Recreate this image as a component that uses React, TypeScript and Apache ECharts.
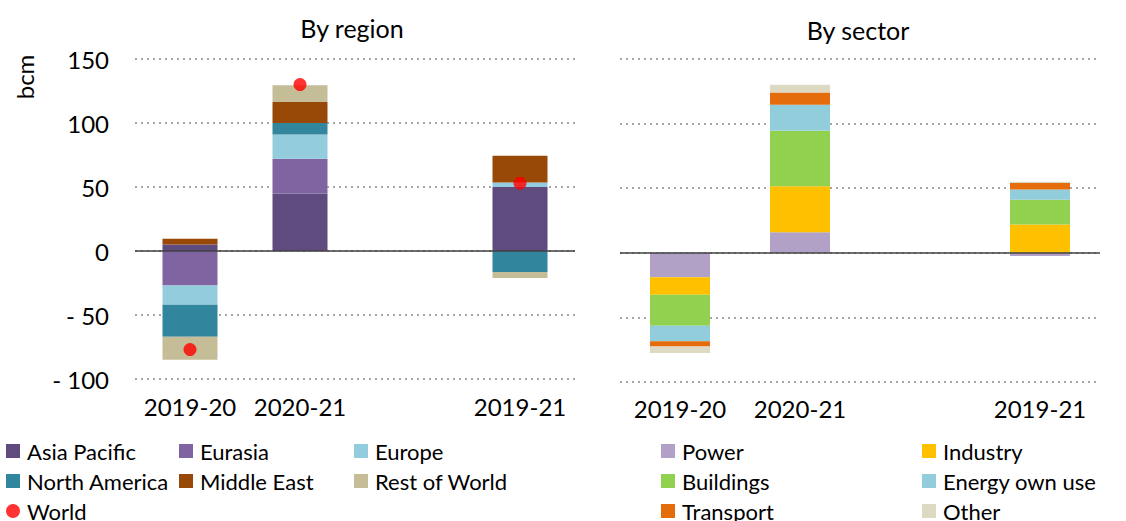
import React, { useEffect, useRef } from "react";
import * as echarts from "echarts";

const categories = ["2019-20", "2020-21", "", "2019-21"];
const yTicks = [-100, -50, 0, 50, 100, 150];

// By region (bcm)
const asiaPacific = [5, 45, null, 50];
const eurasia = [-27, 27, null, 0];
const europe = [-15, 19, null, 3.5];
const northAmerica = [-25, 9, null, -16.5];
const middleEast = [4.5, 16.5, null, 21];
const restOfWorld = [-18, 13, null, -4.5];
const world = [-77, 130, null, 53];

// By sector (bcm)
const power = [-19, 16, null, -2.5];
const industry = [-13.5, 35.5, null, 22];
const buildings = [-24, 43, null, 19];
const energyOwnUse = [-12, 20, null, 8];
const transport = [-4, 9.5, null, 5];
const other = [-5, 6, null, 1];

const regionSeries = [
  { name: "Asia Pacific", data: asiaPacific, color: "#5f4b7d" },
  { name: "Eurasia", data: eurasia, color: "#8064a2" },
  { name: "Europe", data: europe, color: "#93cddd" },
  { name: "North America", data: northAmerica, color: "#31859c" },
  { name: "Middle East", data: middleEast, color: "#984807" },
  { name: "Rest of World", data: restOfWorld, color: "#c4bd97" },
];
const sectorSeries = [
  { name: "Power", data: power, color: "#b2a1c7" },
  { name: "Industry", data: industry, color: "#ffc000" },
  { name: "Buildings", data: buildings, color: "#92d050" },
  { name: "Energy own use", data: energyOwnUse, color: "#92cddc" },
  { name: "Transport", data: transport, color: "#e46c0a" },
  { name: "Other", data: other, color: "#ddd9c3" },
];

const FONT = "Lato";
const FS = 24;
const LEGEND_FS = 22;

export default function App() {
  const ref = useRef<HTMLDivElement>(null);
  useEffect(() => {
    if (!ref.current) return;
    const chart = echarts.init(ref.current, undefined, { renderer: "svg" });

    const splitLine = {
      show: true,
      lineStyle: { color: "#a6a6a6", width: 2, type: [2, 4] as any },
    };
    const zeroLine = {
      silent: true,
      symbol: ["none", "none"],
      label: { show: false },
      lineStyle: { color: "#404040", width: 1.5, type: "solid" },
      data: [{ yAxis: 0 }],
    };

    const legendPos: Record<string, [number, number, string]> = {
      "Asia Pacific": [6, 452, "rect"],
      Eurasia: [179, 452, "rect"],
      Europe: [354, 452, "rect"],
      "North America": [6, 482, "rect"],
      "Middle East": [179, 482, "rect"],
      "Rest of World": [354, 482, "rect"],
      World: [6, 512, "circle"],
      Power: [661, 452, "rect"],
      Industry: [922, 452, "rect"],
      Buildings: [661, 482, "rect"],
      "Energy own use": [922, 482, "rect"],
      Transport: [661, 512, "rect"],
      Other: [922, 512, "rect"],
    };
    const legends = Object.keys(legendPos).map((name) => {
      const [x, y, icon] = legendPos[name];
      return {
        data: [{ name, icon }],
        left: x,
        top: y - 12,
        padding: 0,
        itemWidth: 14,
        itemHeight: 14,
        itemGap: 0,
        selectedMode: false,
        textStyle: { fontFamily: FONT, fontSize: LEGEND_FS, color: "#000", padding: [0, 0, 0, 2] },
      };
    });

    const series: any[] = [];
    regionSeries.forEach((s, i) => {
      series.push({
        name: s.name,
        type: "bar",
        stack: "region",
        xAxisIndex: 0,
        yAxisIndex: 0,
        barWidth: 55,
        data: s.data,
        itemStyle: { color: s.color },
        markLine: i === 0 ? zeroLine : undefined,
      });
    });
    series.push({
      name: "World",
      type: "scatter",
      xAxisIndex: 0,
      yAxisIndex: 0,
      symbol: "circle",
      symbolSize: 13,
      data: world.map((v) => (v === null ? "-" : v)),
      itemStyle: { color: "#ff0000" },
      z: 5,
    });
    sectorSeries.forEach((s, i) => {
      series.push({
        name: s.name,
        type: "bar",
        stack: "sector",
        xAxisIndex: 1,
        yAxisIndex: 1,
        barWidth: 60,
        data: s.data,
        itemStyle: { color: s.color },
        markLine: i === 0 ? zeroLine : undefined,
      });
    });

    const xAxisBase = {
      type: "category",
      data: categories,
      axisLine: { show: false },
      axisTick: { show: false },
      axisLabel: { fontFamily: FONT, fontSize: FS, color: "#000", interval: 0 },
    };
    const yAxisBase = {
      type: "value",
      min: yTicks[0],
      max: yTicks[yTicks.length - 1],
      interval: 50,
      axisLine: { show: false },
      axisTick: { show: false },
      splitLine,
    };

    chart.setOption({
      animation: false,
      grid: [
        { left: 135, top: 59, width: 440, height: 320 },
        { left: 620, top: 59, width: 480, height: 323 },
      ],
      xAxis: [
        { ...xAxisBase, gridIndex: 0, axisLabel: { ...xAxisBase.axisLabel, margin: 15 } },
        { ...xAxisBase, gridIndex: 1, axisLabel: { ...xAxisBase.axisLabel, margin: 14 } },
      ],
      yAxis: [
        {
          ...yAxisBase,
          gridIndex: 0,
          axisLabel: {
            fontFamily: FONT,
            fontSize: FS,
            color: "#000",
            margin: 26,
            formatter: (v: number) => (v < 0 ? "- " + Math.abs(v) : String(v)),
          },
        },
        { ...yAxisBase, gridIndex: 1, axisLabel: { show: false } },
      ],
      legend: legends,
      graphic: [
        {
          type: "text",
          x: 352,
          y: 28,
          style: {
            text: "By region",
            font: `25px ${FONT}`,
            fill: "#000",
            textAlign: "center",
            textVerticalAlign: "middle",
          },
        },
        {
          type: "text",
          x: 858,
          y: 30,
          style: {
            text: "By sector",
            font: `25px ${FONT}`,
            fill: "#000",
            textAlign: "center",
            textVerticalAlign: "middle",
          },
        },
        {
          type: "text",
          x: 24,
          y: 77,
          rotation: Math.PI / 2,
          style: {
            text: "bcm",
            font: `${FS}px ${FONT}`,
            fill: "#000",
            textAlign: "center",
            textVerticalAlign: "middle",
          },
        },
      ],
      series,
    });

    return () => chart.dispose();
  }, []);

  return (
    <div
      ref={ref}
      style={{ position: "fixed", left: 0, top: 0, width: 1126, height: 521, background: "#fff" }}
    />
  );
}
